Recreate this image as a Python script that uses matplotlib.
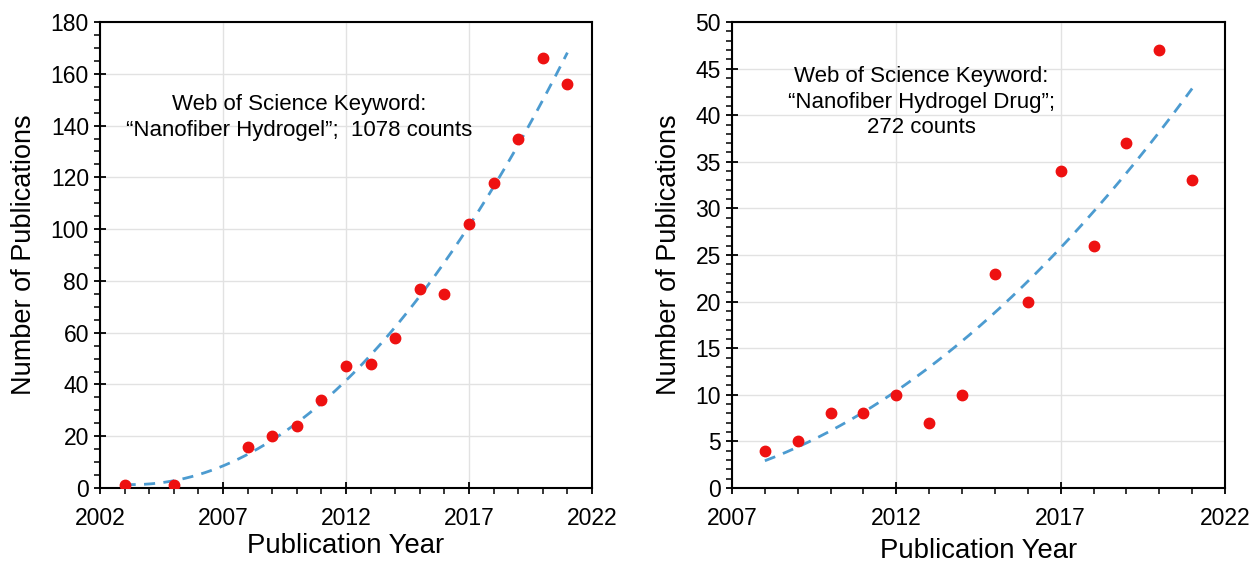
import numpy as np
import matplotlib
matplotlib.use("Agg")
import matplotlib.pyplot as plt
from matplotlib.ticker import MultipleLocator

plt.rcParams['font.family'] = ['Liberation Sans', 'DejaVu Sans']

# panel 1: "Nanofiber Hydrogel"
years1 = [2003, 2005, 2008, 2009, 2010, 2011, 2012, 2013, 2014, 2015, 2016, 2017, 2018, 2019, 2020, 2021]
counts1 = [1, 1, 16, 20, 24, 34, 47, 48, 58, 77, 75, 102, 118, 135, 166, 156]

# panel 2: "Nanofiber Hydrogel Drug"
years2 = [2008, 2009, 2010, 2011, 2012, 2013, 2014, 2015, 2016, 2017, 2018, 2019, 2020, 2021]
counts2 = [4, 5, 8, 8, 10, 7, 10, 23, 20, 34, 26, 37, 47, 33]

label1 = 'Web of Science Keyword:\n\u201cNanofiber Hydrogel\u201d;  1078 counts'
label2 = 'Web of Science Keyword:\n\u201cNanofiber Hydrogel Drug\u201d;\n272 counts'


def panel(ax, x, y, xlim, ylim, ymaj, ymin, text, tx, ty, xlpad):
    coef = np.polyfit(x, y, 2)
    xs = np.linspace(x[0], x[-1], 200)
    ax.plot(xs, np.polyval(coef, xs), '--', color='#4c9bd0', lw=2, dashes=(4, 3), zorder=2)
    ax.plot(x, y, 'o', color='#ee1111', ms=7.5, zorder=3)
    ax.set_xlim(*xlim)
    ax.set_ylim(*ylim)
    ax.set_xticks(range(xlim[0], xlim[1] + 1, 5))
    ax.xaxis.set_minor_locator(MultipleLocator(1))
    ax.yaxis.set_major_locator(MultipleLocator(ymaj))
    ax.yaxis.set_minor_locator(MultipleLocator(ymin))
    ax.grid(True, which='major', color='#e2e2e2', lw=1)
    ax.set_axisbelow(True)
    ax.tick_params(which='major', direction='inout', length=9, width=1.3, labelsize=16.5)
    ax.tick_params(axis='x', which='major', pad=9)
    ax.tick_params(which='minor', direction='out', length=4, width=1.1)
    for s in ax.spines.values():
        s.set_linewidth(1.5)
    ax.set_xlabel('Publication Year', fontsize=19.8, labelpad=xlpad)
    ax.set_ylabel('Number of Publications', fontsize=19.5, labelpad=10)
    ax.text(tx, ty, text, ha='center', va='top', fontsize=16, linespacing=1.3)


fig = plt.figure(figsize=(12.58, 5.64), dpi=100)
ax1 = fig.add_axes([100 / 1258, 1 - 488 / 564, 492 / 1258, 466 / 564])
ax2 = fig.add_axes([732 / 1258, 1 - 488 / 564, 493 / 1258, 466 / 564])

panel(ax1, years1, counts1, (2002, 2022), (0, 180), 20, 5, label1, 2010.1, 152, 2)
panel(ax2, years2, counts2, (2007, 2022), (0, 50), 5, 1, label2, 2012.77, 45.3, 6)

fig.savefig('out.png', dpi=100)
